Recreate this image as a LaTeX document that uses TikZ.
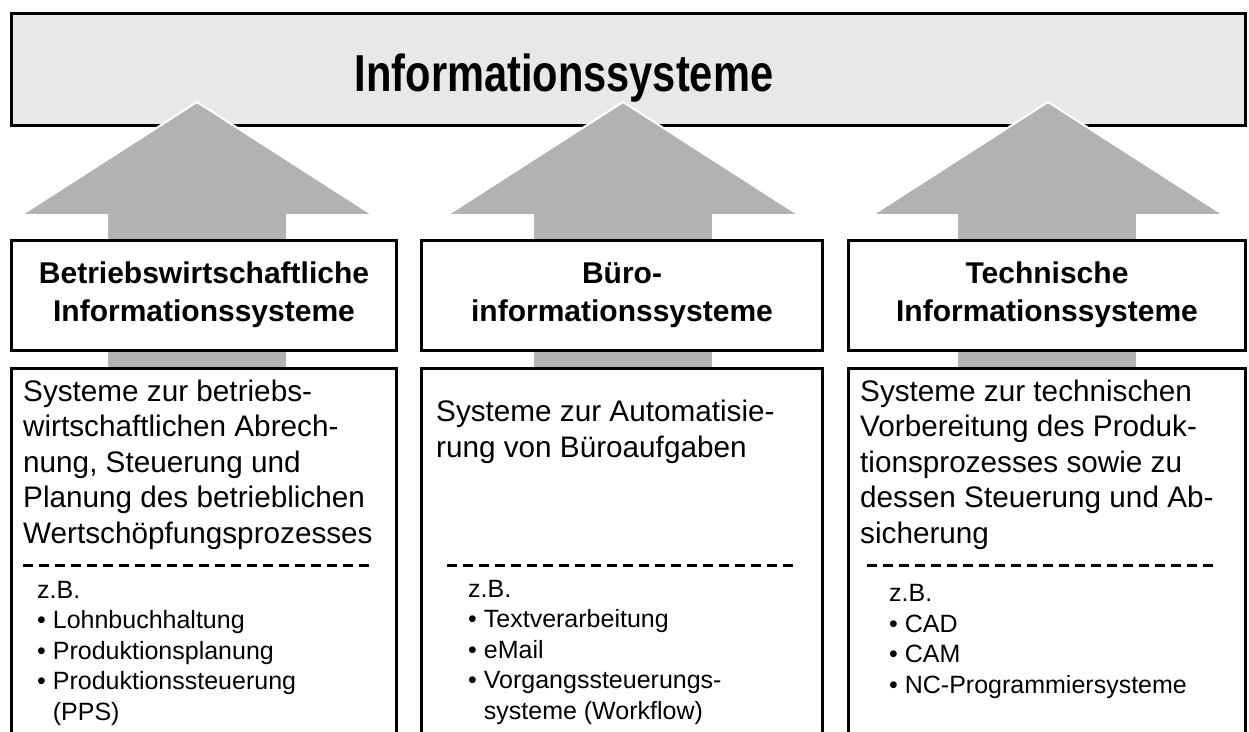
\documentclass[tikz,border=0pt]{standalone}
\usepackage{fontspec}
\setmainfont{Liberation Sans}
\newfontfamily\titlefont[FakeStretch=0.8]{Liberation Sans}
\usetikzlibrary{positioning}
\definecolor{titlegray}{HTML}{E8E8E8}
\definecolor{arrowgray}{HTML}{B2B2B2}

\begin{document}
\begin{tikzpicture}[x=1pt,y=-1pt,
  topbox/.style={draw,line width=3pt,fill=titlegray,minimum width=1234pt,minimum height=112pt,inner sep=0pt},
  headbox/.style={draw,line width=3pt,fill=white,minimum height=110pt,inner sep=0pt,align=center,font=\bfseries\fontsize{30}{38}\selectfont},
  textbox/.style={draw,line width=3pt,fill=white,minimum height=420pt,anchor=north,inner sep=0pt},
  desc/.style={anchor=base west,align=left,inner sep=0pt,font=\fontsize{29.7}{35.5}\selectfont},
  examples/.style={anchor=base west,align=left,inner sep=0pt,font=\fontsize{25}{30.5}\selectfont},
  sepline/.style={line width=3pt,dash pattern=on 10pt off 6pt},
  uparrow/.style={fill=arrowgray,draw=white,line width=2pt}]
	 \useasboundingbox (0,0) rectangle (1249,731);
	 \clip (0,0) rectangle (1249,731);
	 \node[topbox] (top) at (628.5,69.5) {};
	 \node[anchor=base,inner sep=0pt,font=\titlefont\bfseries\fontsize{52}{60}\selectfont] (title) at (564,91) {Informationssysteme};
	 \filldraw[uparrow] (197,102) -- (373,215) -- (287,215) -- (287,400) -- (107,400) -- (107,215) -- (21,215) -- cycle;
	 \filldraw[uparrow] (623,102) -- (799,215) -- (713,215) -- (713,400) -- (533,400) -- (533,215) -- (447,215) -- cycle;
	 \filldraw[uparrow] (1048,102) -- (1224,215) -- (1137,215) -- (1137,400) -- (957,400) -- (957,215) -- (872,215) -- cycle;
	 \node[headbox,minimum width=385pt] (bwl) at (204,295) {Betriebswirtschaftliche\\Informationssysteme};
	 \node[headbox,minimum width=401pt] (buero) at (622,295) {\raisebox{0pt}[22pt]{Büro-}\\informationssysteme};
	 \node[headbox,minimum width=397pt] (tech) at (1047,295) {Technische\\Informationssysteme};
	 \node[textbox,minimum width=385pt] (bwlbox) at (204,366.5) {};
	 \node[textbox,minimum width=401pt] (buerobox) at (622,366.5) {};
	 \node[textbox,minimum width=397pt] (techbox) at (1047,366.5) {};
	 \node[desc] (bwltext) at (23,543) {Systeme zur betriebs-\\wirtschaftlichen Abrech-\\nung, Steuerung und\\Planung des betrieblichen\\Wertschöpfungsprozesses};
	 \node[desc] (buerotext) at (436,457) {Systeme zur Automatisie-\\rung von Büroaufgaben};
	 \node[desc] (techtext) at (860,543) {Systeme zur technischen\\Vorbereitung des Produk-\\tionsprozesses sowie zu\\dessen Steuerung und Ab-\\sicherung};
	 \draw[sepline] (23,565) -- (373,565);
	 \draw[sepline] (447,565) -- (798,565);
	 \draw[sepline] (867,565) -- (1216,565);
	 \node[examples] (bwlbsp) at (37,720) {z.B.\\• Lohnbuchhaltung\\• Produktionsplanung\\• Produktionssteuerung\\\hphantom{• }(PPS)};
	 \node[examples] (buerobsp) at (468,719) {z.B.\\• Textverarbeitung\\• eMail\\• Vorgangssteuerungs-\\\hphantom{• }systeme (Workflow)};
	 \node[examples] (techbsp) at (889,693) {z.B.\\• CAD\\• CAM\\• NC-Programmiersysteme};
\end{tikzpicture}
\end{document}
